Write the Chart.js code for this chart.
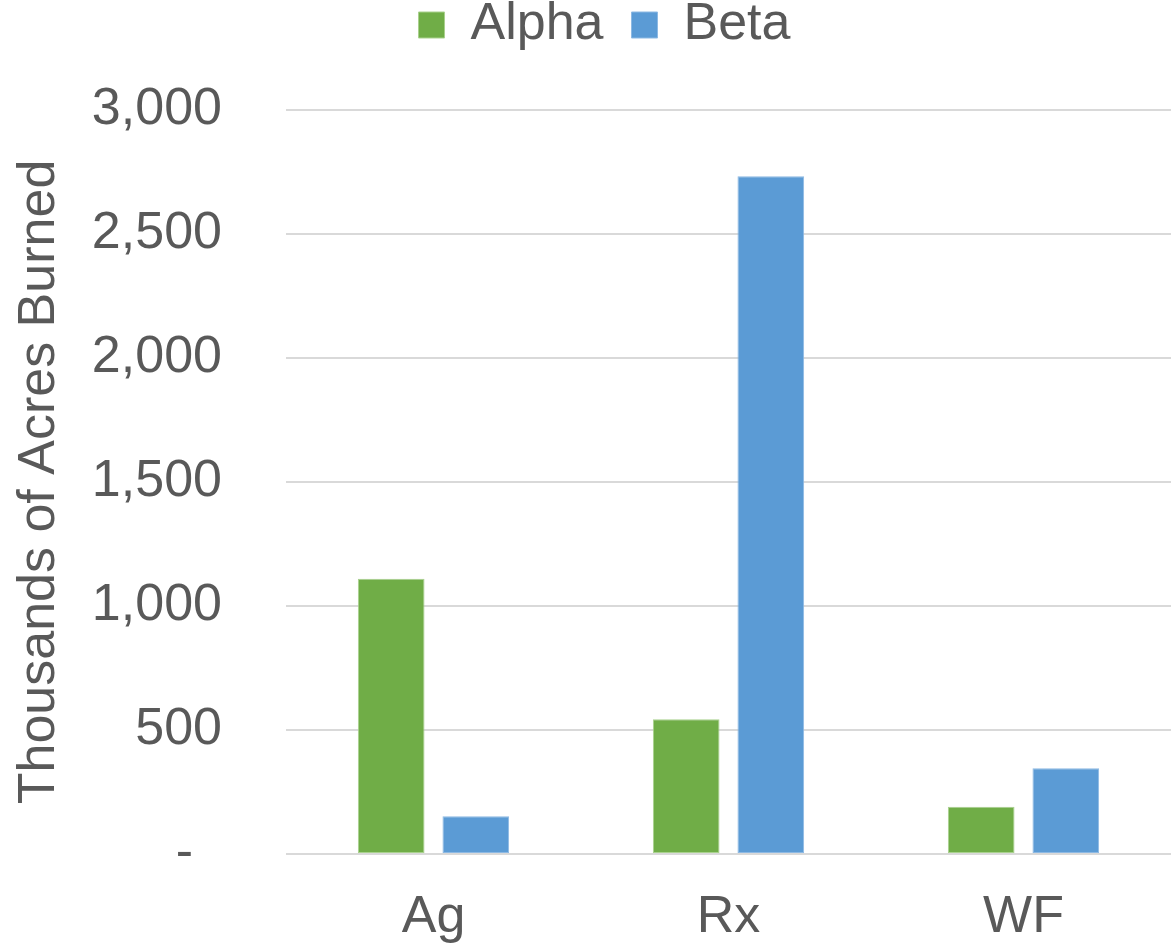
<!DOCTYPE html>
<html>
<head>
<meta charset="utf-8">
<script src="https://cdn.jsdelivr.net/npm/chart.js@4/dist/chart.umd.min.js"></script>
<style>
  html, body { margin: 0; padding: 0; background: #ffffff; }
  #wrap { width: 1171px; height: 943px; position: relative; overflow: hidden; }
</style>
</head>
<body>
<div id="wrap"><canvas id="c"></canvas></div>
<script>
const categories = ['Ag', 'Rx', 'WF'];
const alphaValues = [1110, 543, 191];
const betaValues = [152, 2733, 346];
const seriesNames = ['Alpha', 'Beta'];
const yTicks = [0, 500, 1000, 1500, 2000, 2500, 3000];
const yTitle = 'Thousands of Acres Burned';

const TEXT = '#595959';
const FONT = 'Liberation Sans, Arial, sans-serif';

// keep the legend block tall enough so the plot area starts where the reference's does
const legendHeightPlugin = {
  id: 'legendHeight',
  beforeLayout(chart) {
    const lg = chart.legend;
    if (lg && !lg._hPatched) {
      const orig = lg.fit.bind(lg);
      lg.fit = function () { orig(); this.height = 139; };
      lg._hPatched = true;
    }
  }
};

new Chart(document.getElementById('c'), {
  type: 'bar',
  data: {
    labels: categories,
    datasets: [
      { label: seriesNames[0], data: alphaValues, backgroundColor: '#70AD47', borderColor: '#a9d18e', borderWidth: 1, borderSkipped: false,
        categoryPercentage: 0.5737, barPercentage: 0.788 },
      { label: seriesNames[1], data: betaValues, backgroundColor: '#5B9BD5', borderColor: '#8db9e3', borderWidth: 1, borderSkipped: false,
        categoryPercentage: 0.5737, barPercentage: 0.788 }
    ]
  },
  plugins: [legendHeightPlugin],
  options: {
    responsive: true,
    maintainAspectRatio: false,
    animation: false,
    layout: { padding: { top: -29, left: 34, right: -4, bottom: 0 } },
    plugins: {
      legend: {
        position: 'top',
        labels: {
          color: TEXT,
          font: { family: FONT, size: 52 },
          boxWidth: 26,
          boxHeight: 26,
          padding: 28
        }
      },
      tooltip: { enabled: false }
    },
    scales: {
      x: {
        grid: { display: false },
        border: { display: false },
        ticks: { color: TEXT, font: { family: FONT, size: 52 }, padding: 24, maxRotation: 0 },
        afterFit: (s) => { s.height = 89; }
      },
      y: {
        min: yTicks[0],
        max: yTicks[yTicks.length - 1],
        afterBuildTicks: (s) => { s.ticks = yTicks.map(v => ({ value: v })); },
        grid: { color: '#d9d9d9', lineWidth: 2, drawTicks: false },
        border: { display: false },
        ticks: {
          color: TEXT,
          font: { family: FONT, size: 52 },
          padding: 64,
          callback: (v) => v === 0 ? '-  ' : v.toLocaleString('en-US')
        },
        title: {
          display: true,
          text: yTitle,
          color: TEXT,
          font: { family: FONT, size: 52 },
          padding: { top: -26, bottom: 0 }
        },
        afterFit: (s) => { s.width = 252; s.paddingTop = 0; s.paddingBottom = 0; }
      }
    }
  }
});
</script>
</body>
</html>
